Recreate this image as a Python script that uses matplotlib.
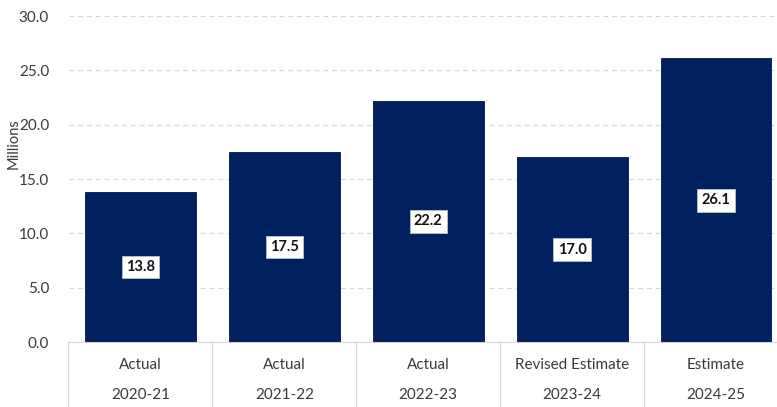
import matplotlib.pyplot as plt
from matplotlib.transforms import blended_transform_factory

plt.rcParams['font.family'] = ['Lato', 'DejaVu Sans']

# data
years = ['2020-21', '2021-22', '2022-23', '2023-24', '2024-25']
status = ['Actual', 'Actual', 'Actual', 'Revised Estimate', 'Estimate']
values = [13.8, 17.5, 22.2, 17.0, 26.1]
yticks = [0, 5, 10, 15, 20, 25, 30]

W, H = 777, 407
fig = plt.figure(figsize=(W / 100, H / 100), dpi=100)
# axes run a little past the right edge of the canvas
left, right, bottom, top = 68.5, 788, 407 - 342, 407 - 16
ax = fig.add_axes([left / W, bottom / H, (right - left) / W, (top - bottom) / H])

x = range(len(values))
ax.bar(x, values, width=0.77, color='#002060', edgecolor='#001848', linewidth=0.6, zorder=3)

for i, v in enumerate(values):
    ax.text(i, v / 2, f'{v:.1f}', ha='center', va='center', fontsize=10.5,
            fontweight='bold', color='#111111', zorder=4,
            bbox=dict(boxstyle='square,pad=0.3', facecolor='white',
                      edgecolor='#bfbfbf', linewidth=0.6))

ax.set_xlim(-0.5, len(values) - 0.5)
ax.set_ylim(0, 30)
ax.set_yticks(yticks)
ax.set_yticklabels([f'{t:.1f}' for t in yticks], fontsize=11, color='#3a3a3a')
ax.tick_params(axis='y', length=0, pad=14)
ax.set_xticks([])
ax.set_ylabel('Millions', fontsize=10.5, color='#3a3a3a')
ax.yaxis.set_label_coords(-0.066, 0.61)

ax.grid(axis='y', linestyle=(0, (4, 3)), color='#d9d9d9', linewidth=0.9, zorder=0)
for s in ['top', 'right', 'left']:
    ax.spines[s].set_visible(False)
ax.spines['bottom'].set_color('#d9d9d9')
ax.spines['bottom'].set_linewidth(0.9)

# two-row category table under the bars
tr = blended_transform_factory(ax.transData, ax.transAxes)
h_px = top - bottom
for b in [i - 0.5 for i in range(len(values) + 1)]:
    ax.plot([b, b], [0, -70 / h_px], transform=tr, color='#d9d9d9',
            linewidth=0.9, clip_on=False)
for i in x:
    ax.text(i, -23 / h_px, status[i], transform=tr, ha='center', va='center',
            fontsize=11, color='#3a3a3a')
    ax.text(i, -53 / h_px, years[i], transform=tr, ha='center', va='center',
            fontsize=11, color='#3a3a3a')

fig.savefig('out.png', dpi=100)
